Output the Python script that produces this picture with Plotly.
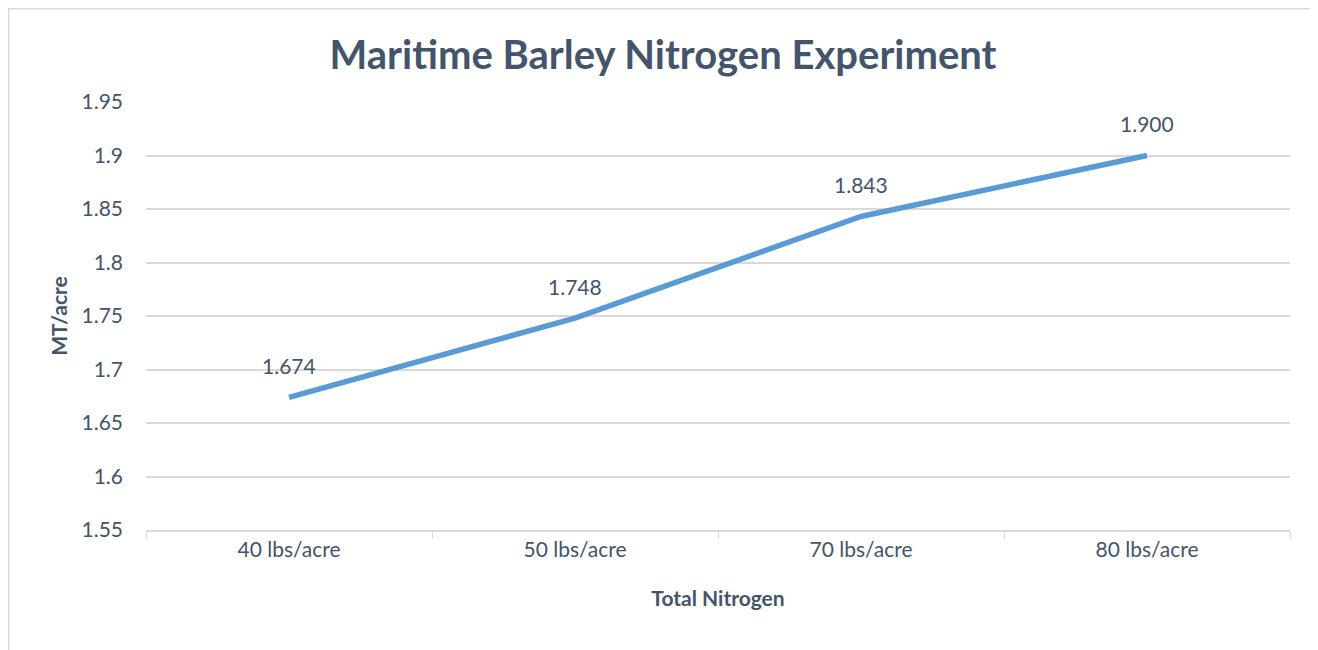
import plotly.graph_objects as go

categories = ["40 lbs/acre", "50 lbs/acre", "70 lbs/acre", "80 lbs/acre"]
values = [1.674, 1.748, 1.843, 1.900]
value_labels = ["1.674", "1.748", "1.843", "1.900"]
y_ticks = [1.55, 1.6, 1.65, 1.7, 1.75, 1.8, 1.85, 1.9, 1.95]
y_tick_text = ["1.55", "1.6", "1.65", "1.7", "1.75", "1.8", "1.85", "1.9", "1.95"]

FONT = "Lato, Carlito, Calibri, sans-serif"
TXT = "#44546a"
GRID = "#d9d9d9"

# page has an 8px body margin; figure coordinates are screen minus 8
W, H = 1310, 642
L, R, T, B = 138, 28, 94, 120
PW, PH = W - L - R, H - T - B

fig = go.Figure()
fig.add_trace(go.Scatter(
    x=categories, y=values, mode="lines",
    line=dict(color="#5b9bd5", width=5.5),
    hoverinfo="skip", showlegend=False,
))

for c, v, t in zip(categories, values, value_labels):
    fig.add_annotation(x=c, y=v, text=t, showarrow=False, yshift=32,
                       font=dict(family=FONT, size=21, color=TXT))

fig.update_layout(
    width=W, height=H,
    paper_bgcolor="white", plot_bgcolor="white",
    margin=dict(l=L, r=R, t=T, b=B),
    title=dict(text="<b>Maritime Barley Nitrogen Experiment</b>",
               x=0.5, xanchor="center", y=1 - 47 / H, yanchor="middle",
               font=dict(family=FONT, size=40, color=TXT)),
    font=dict(family=FONT, size=21, color=TXT),
    xaxis=dict(type="category", range=[-0.5, 3.5], tickson="boundaries",
               ticks="outside", ticklen=7, tickcolor=GRID, showline=True,
               linecolor=GRID, linewidth=1.5, showgrid=False,
               tickfont=dict(family=FONT, size=21, color=TXT),
               title=dict(text="<b>Total Nitrogen</b>", standoff=31,
                          font=dict(family=FONT, size=21, color=TXT))),
    yaxis=dict(range=[1.55, 1.95], tickvals=y_ticks, ticktext=y_tick_text,
               showgrid=True, gridcolor=GRID, gridwidth=1.5, zeroline=False,
               showline=False, ticks="", ticklabelstandoff=22,
               tickfont=dict(family=FONT, size=21, color=TXT),
               title=dict(text="<b>MT/acre</b>", standoff=8,
                          font=dict(family=FONT, size=21, color=TXT))),
    shapes=[dict(type="rect", xref="paper", yref="paper",
                 x0=(0.75 - L) / PW, x1=(1308 - L) / PW,
                 y0=-(B + 20) / PH, y1=(PH + T - 0.75) / PH,
                 line=dict(color="#d9d9d9", width=1.5))],
)

fig.write_html("out.html")
